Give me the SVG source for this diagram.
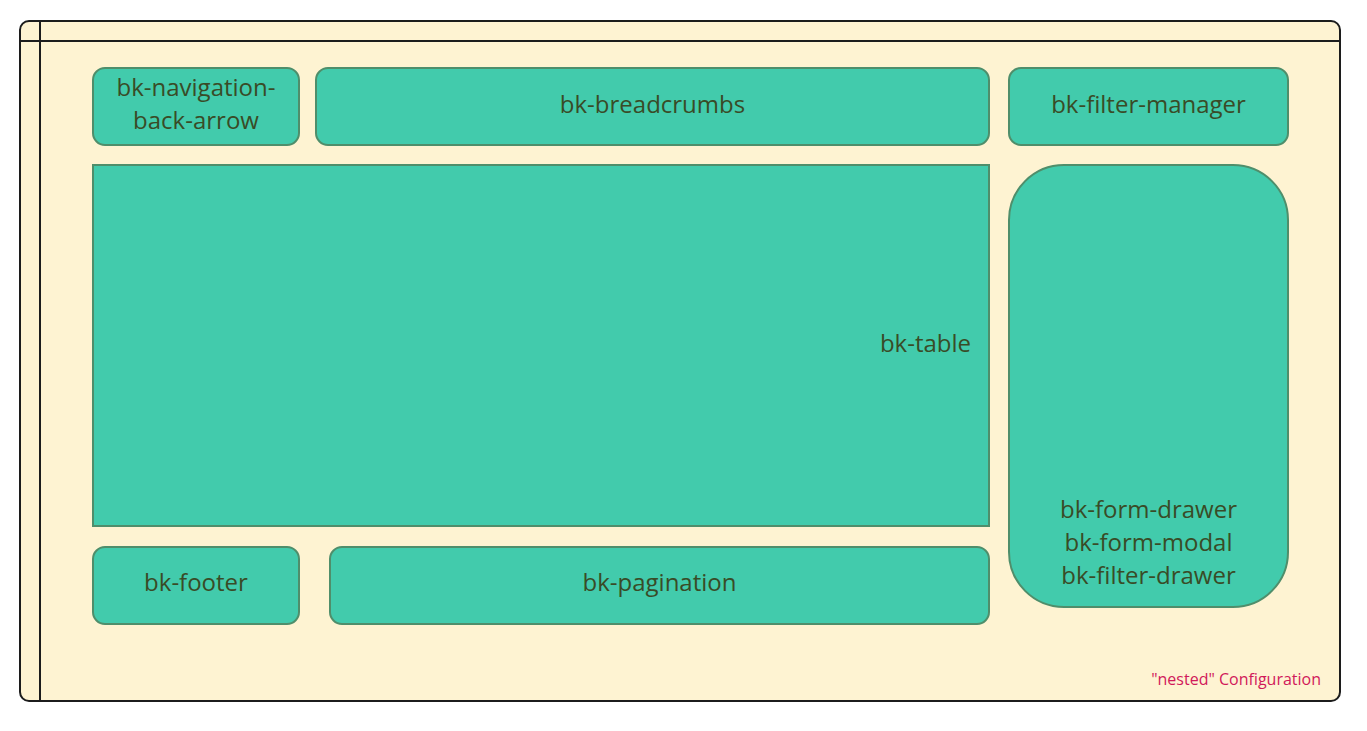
<svg xmlns="http://www.w3.org/2000/svg" width="1367" height="731" viewBox="0 0 1367 731">
<style>
.frame{fill:#fef3d2;stroke:#1c1c1c;stroke-width:2}
.line{stroke:#1c1c1c;stroke-width:2;fill:none}
.node{fill:#42cbac;stroke:#4f8e6b;stroke-width:2}
.t{font-family:"Open Sans","Noto Sans",sans-serif;font-size:24px;fill:#394b27;text-anchor:middle;dominant-baseline:central}
.note{font-family:"Open Sans","Noto Sans",sans-serif;font-size:16px;fill:#d1195a;text-anchor:end}
</style>
<rect width="1367" height="731" fill="#ffffff"/>
<g id="frame">
<rect class="frame" x="20" y="21" width="1320" height="680" rx="9"/>
<line class="line" x1="40" y1="21" x2="40" y2="701"/>
<line class="line" x1="20" y1="41" x2="1340" y2="41"/>
<text class="note" x="1321" y="685">"nested" Configuration</text>
</g>
<g id="nav">
<rect class="node" x="93" y="68" width="206" height="77" rx="12"/>
<text class="t" x="196" y="86.5">bk-navigation-</text>
<text class="t" x="196" y="119.5">back-arrow</text>
</g>
<g id="breadcrumbs">
<rect class="node" x="316" y="68" width="673" height="77" rx="12"/>
<text class="t" x="652.5" y="103">bk-breadcrumbs</text>
</g>
<g id="filter-manager">
<rect class="node" x="1009" y="68" width="279" height="77" rx="12"/>
<text class="t" x="1148.5" y="103">bk-filter-manager</text>
</g>
<g id="table">
<rect class="node" x="93" y="165" width="896" height="361"/>
<text class="t" x="971" y="342" style="text-anchor:end">bk-table</text>
</g>
<g id="form-drawer">
<rect class="node" x="1009" y="165" width="279" height="442" rx="55"/>
<text class="t" x="1148.5" y="508.5">bk-form-drawer</text>
<text class="t" x="1148.5" y="541.5">bk-form-modal</text>
<text class="t" x="1148.5" y="574">bk-filter-drawer</text>
</g>
<g id="footer">
<rect class="node" x="93" y="547" width="206" height="77" rx="12"/>
<text class="t" x="196" y="581">bk-footer</text>
</g>
<g id="pagination">
<rect class="node" x="330" y="547" width="659" height="77" rx="12"/>
<text class="t" x="659.5" y="581">bk-pagination</text>
</g>
<g id="connectors"></g>
</svg>
